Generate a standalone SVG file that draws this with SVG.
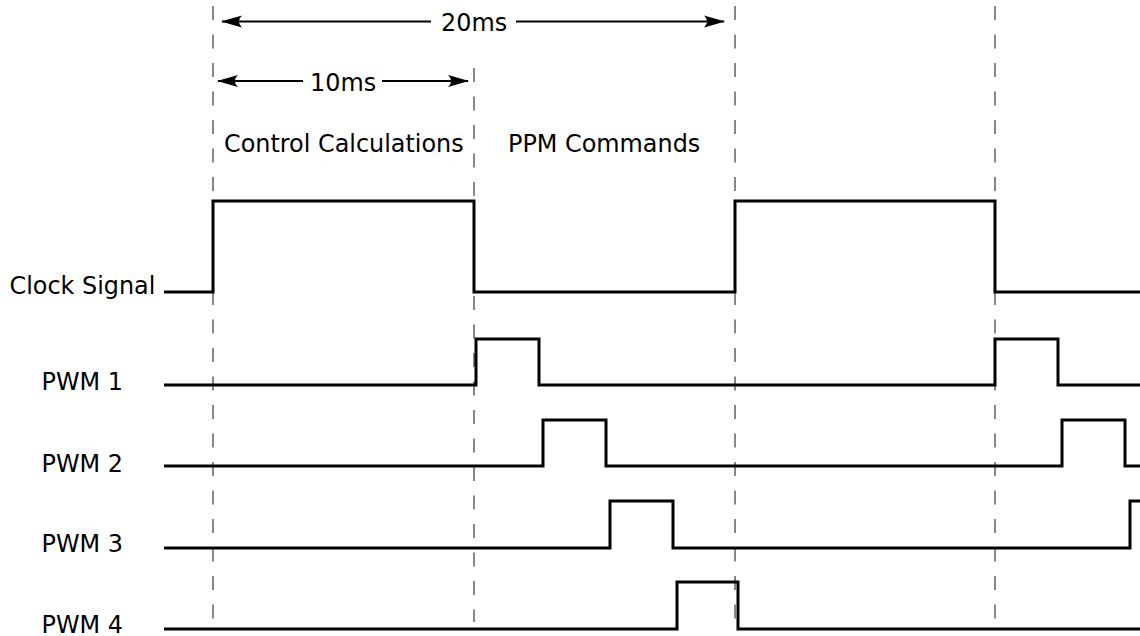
<svg xmlns="http://www.w3.org/2000/svg" width="1140" height="636" viewBox="0 0 1140 636">
<style>
.lbl{font-family:"DejaVu Sans","Liberation Sans",sans-serif;font-size:23.9px;fill:#000}
.sig{fill:none;stroke:#000;stroke-width:3;stroke-linejoin:miter;stroke-linecap:butt}
.grid{fill:none;stroke:#555;stroke-width:1.4;stroke-dasharray:14 14.5}
.dim{fill:none;stroke:#000;stroke-width:2}
</style>
<defs>
<marker id="ah" markerUnits="userSpaceOnUse" viewBox="0 0 20 12" refX="19" refY="6" markerWidth="21" markerHeight="12.6" orient="auto-start-reverse">
<path d="M20,6 L0,0.3 Q6,6 0,11.7 Z" fill="#000"/>
</marker>
</defs>
<rect width="1140" height="636" fill="#fff"/>
<g id="gridlines">
<line class="grid" x1="213" y1="6" x2="213" y2="622"/>
<line class="grid" x1="474" y1="68" x2="474" y2="622"/>
<line class="grid" x1="735" y1="6" x2="735" y2="622"/>
<line class="grid" x1="995" y1="6" x2="995" y2="622"/>
</g>
<g id="dim-20ms">
<line class="dim" x1="222" y1="21.5" x2="431" y2="21.5" marker-start="url(#ah)"/>
<line class="dim" x1="516" y1="21.5" x2="724" y2="21.5" marker-end="url(#ah)"/>
<text class="lbl" x="441" y="30.5">20ms</text>
</g>
<g id="dim-10ms">
<line class="dim" x1="218" y1="81" x2="303" y2="81" marker-start="url(#ah)"/>
<line class="dim" x1="382" y1="81" x2="468" y2="81" marker-end="url(#ah)"/>
<text class="lbl" x="310" y="90.5">10ms</text>
</g>
<g id="phase-labels">
<text class="lbl" x="224" y="151.5">Control Calculations</text>
<text class="lbl" x="508" y="151.5">PPM Commands</text>
</g>
<g id="clock">
<text class="lbl" x="9.5" y="293.5">Clock Signal</text>
<path class="sig" d="M164,292 H213 V201 H474 V292 H735 V201 H995 V292 H1140"/>
</g>
<g id="pwm1">
<text class="lbl" x="41.5" y="390">PWM 1</text>
<path class="sig" d="M164,385 H476 V339 H539 V385 H995 V339 H1058 V385 H1140"/>
</g>
<g id="pwm2">
<text class="lbl" x="41.5" y="471.5">PWM 2</text>
<path class="sig" d="M164,466 H543 V420 H606 V466 H1062 V420 H1125 V466 H1140"/>
</g>
<g id="pwm3">
<text class="lbl" x="41.5" y="552">PWM 3</text>
<path class="sig" d="M164,548 H610 V501 H673 V548 H1130 V501 H1140"/>
</g>
<g id="pwm4">
<text class="lbl" x="41.5" y="632.5">PWM 4</text>
<path class="sig" d="M164,629 H677 V582 H738 V629 H1140"/>
</g>
</svg>
